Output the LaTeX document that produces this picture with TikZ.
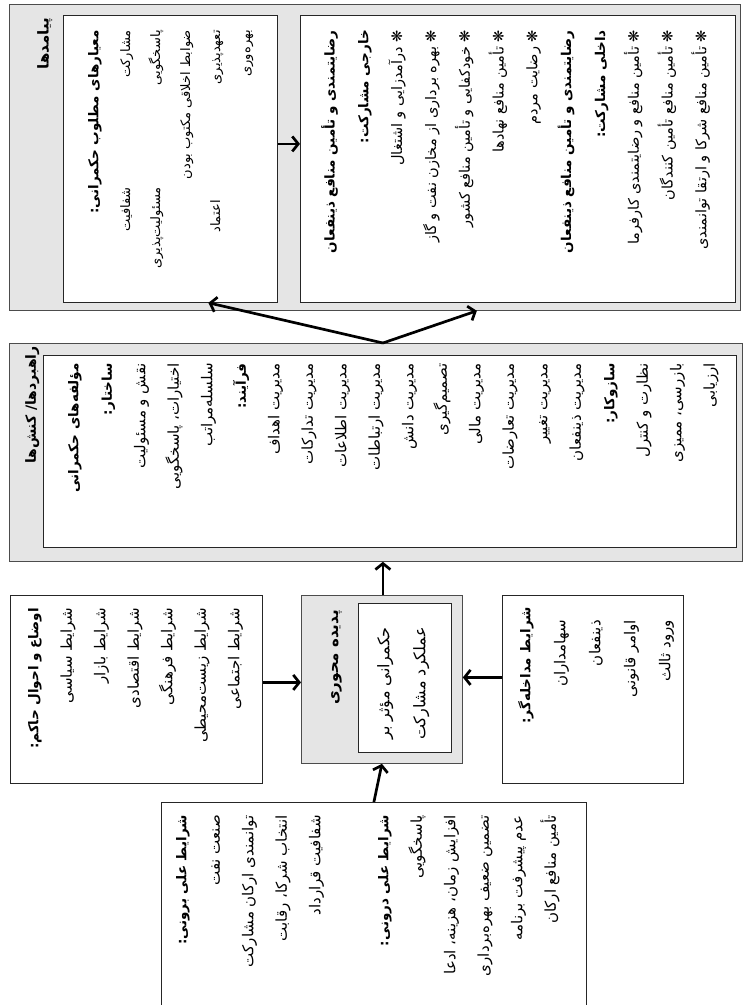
\documentclass[tikz,border=0pt]{standalone}
\usepackage{fontspec}
\newfontfamily\arabicfont[Script=Arabic]{DejaVu Sans}
\TeXXeTstate=1
\usetikzlibrary{arrows.meta}
\newcommand{\fa}[1]{\beginR #1\endR}
\newcommand{\hd}[1]{\beginR{\bfseries\fontsize{13.5}{33.5}\selectfont #1}\endR}
\tikzset{
  frame/.style={draw=black!70, line width=0.8pt, fill=black!10, anchor=north west, inner sep=0pt},
  box/.style={draw=black!85, line width=0.8pt, fill=white, anchor=north west, inner sep=0pt},
  txt/.style={rotate=90, anchor=north east, align=right, inner sep=0pt, font=\arabicfont\fontsize{15}{33.5}\selectfont},
  head/.style={txt, font=\arabicfont\bfseries\fontsize{14}{33.5}\selectfont},
  arr/.style={line width=2.7pt, -{Straight Barb[length=6pt,width=15pt]}}
}

\begin{document}
\begin{tikzpicture}[x=1pt, y=-1pt]
    \useasboundingbox (0,0) rectangle (743,1005);

    % draw boxes
    \node[frame, minimum width=731pt, minimum height=306pt] (payamad) at (9,4) {};
    \node[box, minimum width=214pt, minimum height=287pt] (meyar) at (63,15) {};
    \node[box, minimum width=435pt, minimum height=287pt] (rezayat) at (300,15) {};
    \node[frame, minimum width=733pt, minimum height=218pt] (rahbord) at (9,343) {};
    \node[box, minimum width=693pt, minimum height=192pt] (rahbordin) at (43,355) {};
    \node[box, minimum width=252pt, minimum height=188pt] (owza) at (10,595) {};
    \node[frame, minimum width=161pt, minimum height=168pt] (padideh) at (301,595) {};
    \node[box, minimum width=93pt, minimum height=149pt] (padidehin) at (358,603) {};
    \node[box, minimum width=181pt, minimum height=188pt] (modakhele) at (502,595) {};
    \node[box, minimum width=425pt, minimum height=230pt] (elal) at (161,802) {};

    % draw texts
    \node[head, font=\arabicfont\bfseries\fontsize{15}{33.5}\selectfont] (payamadt) at (37,18) {\fa{پیامدها}};
    \node[head, font=\arabicfont\bfseries\fontsize{13.5}{33.5}\selectfont] (meyart) at (88,30) {\fa{معیارهای مطلوب حکمرانی:}};
    \node[txt, font=\arabicfont\fontsize{13}{30}\selectfont] (meyar1) at (120,30) {\fa{مشارکت}\\\fa{پاسخگویی}\\\fa{ضوابط اخلاقی مکتوب بودن}\\\fa{تعهدپذیری}\\\fa{بهره‌وری}};
    \node[txt, font=\arabicfont\fontsize{13}{30}\selectfont] (meyar2) at (120,187) {\fa{شفافیت}\\\fa{مسئولیت‌پذیری}};
    \node[txt, font=\arabicfont\fontsize{13}{30}\selectfont] (meyar3) at (210,200) {\fa{اعتماد}};
    \node[txt, font=\arabicfont\fontsize{14.5}{33.8}\selectfont] (rezayatt) at (321,30) {\hd{رضایتمندی و تأمین منافع ذینفعان}\\\hd{خارجی مشارکت:}\\\fa{❋ درآمدزایی و اشتغال}\\\fa{❋ بهره برداری از مخازن نفت و گاز}\\\fa{❋ خودکفایی و تأمین منافع کشور}\\\fa{❋ تأمین منافع نهادها}\\\fa{❋ رضایت مردم}\\\hd{رضایتمندی و تأمین منافع ذینفعان}\\\hd{داخلی مشارکت:}\\\fa{❋ تأمین منافع و رضایتمندی کارفرما}\\\fa{❋ تأمین منافع تأمین کنندگان}\\\fa{❋ تأمین منافع شرکا و ارتقا توانمندی}};
    \node[head] (rahbordt) at (25,346) {\fa{راهبردها/ کنش‌ها}};
    \node[txt] (rahbordl) at (68,363) {\hd{مؤلفه‌های حکمرانی}\\\hd{ساختار:}\\\fa{نقش و مسئولیت}\\\fa{اختیارات، پاسخگویی}\\\fa{سلسله‌مراتب}\\\hd{فرآیند:}\\\fa{مدیریت اهداف}\\\fa{مدیریت تدارکات}\\\fa{مدیریت اطلاعات}\\\fa{مدیریت ارتباطات}\\\fa{مدیریت دانش}\\\fa{تصمیم‌گیری}\\\fa{مدیریت مالی}\\\fa{مدیریت تعارضات}\\\fa{مدیریت تغییر}\\\fa{مدیریت ذینفعان}\\\hd{سازوکار:}\\\fa{نظارت و کنترل}\\\fa{بازرسی، ممیزی}\\\fa{ارزیابی}};
    \node[txt] (owzal) at (28,608) {\hd{اوضاع و احوال حاکم:}\\\fa{شرایط سیاسی}\\\fa{شرایط بازار}\\\fa{شرایط اقتصادی}\\\fa{شرایط فرهنگی}\\\fa{شرایط زیست‌محیطی}\\\fa{شرایط اجتماعی}};
    \node[head, font=\arabicfont\bfseries\fontsize{15}{33.5}\selectfont] (padidehl) at (331,610) {\fa{پدیده محوری}};
    \node[txt, font=\arabicfont\fontsize{16}{36}\selectfont] (padidehinl) at (377,627) {\fa{حکمرانی مؤثر بر}\\\fa{عملکرد مشارکت}};
    \node[txt, font=\arabicfont\fontsize{15}{35}\selectfont] (modakhelel) at (518,607) {\hd{شرایط مداخله‌گر:}\\\fa{\hspace{13pt}سهامداران}\\\fa{\hspace{13pt}ذینفعان}\\\fa{\hspace{13pt}اوامر قانونی}\\\fa{\hspace{13pt}ورود ثالث}};
    \node[txt] (elal1) at (176,815) {\hd{شرایط علی برونی:}\\\fa{صنعت نفت}\\\fa{توانمندی ارکان مشارکت}\\\fa{انتخاب شرکا، رقابت}\\\fa{شفافیت قرارداد}};
    \node[txt] (elal2) at (378,815) {\hd{شرایط علی درونی:}\\\fa{پاسخگویی}\\\fa{افزایش زمان، هزینه، ادعا}\\\fa{تضمین ضعیف بهره‌برداری}\\\fa{عدم پیشرفت برنامه}\\\fa{تأمین منافع ارکان}};

    % draw arrows
    \draw[arr] ([yshift=15pt]meyar.east) -- ([yshift=15pt]rezayat.west);
    \draw[arr] ([xshift=7pt]rahbord.north) -- ([xshift=38pt]meyar.south);
    \draw[arr] ([xshift=7pt]rahbord.north) -- ([xshift=102pt]payamad.south);
    \draw[arr] ([xshift=1pt]padideh.north) -- ([xshift=7pt]rahbord.south);
    \draw[arr] ([yshift=7pt]owza.east) -- ([yshift=7pt]owza.east -| padideh.west);
    \draw[arr] ([yshift=12pt]modakhele.west) -- ([yshift=12pt]modakhele.west -| padideh.east);
    \draw[arr] (elal.north) -- (padideh.south);
\end{tikzpicture}
\end{document}
